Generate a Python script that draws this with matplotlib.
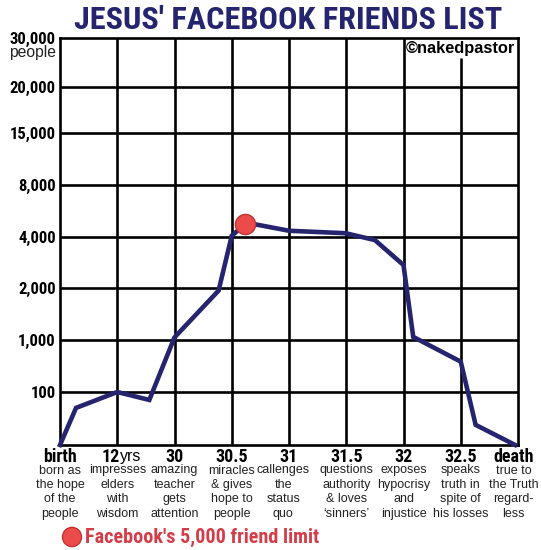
import numpy as np
import matplotlib.pyplot as plt
from matplotlib.patches import Circle

# Data
stages = ["birth", "12", "30", "30.5", "31", "31.5", "32", "32.5", "death"]
notes = [
    "born as\nthe hope\nof the\npeople",
    "impresses\nelders\nwith\nwisdom",
    "amazing\nteacher\ngets\nattention",
    "miracles\n& gives\nhope to\npeople",
    "callenges\nthe\nstatus\nquo",
    "questions\nauthority\n& loves\n\u2018sinners\u2019",
    "exposes\nhypocrisy\nand\ninjustice",
    "speaks\ntruth in\nspite of\nhis losses",
    "true to\nthe Truth\nregard-\nless",
]
levels = [0, 100, 1000, 2000, 4000, 8000, 15000, 20000, 30000]
level_labels = ["", "100", "1,000", "2,000", "4,000", "8,000", "15,000", "20,000", "30,000"]

# friends along the way (x in stage units)
path_x = [0, 0.28, 1.0, 1.56, 2.0, 2.77, 3.0, 3.24, 3.38, 4.0, 4.94, 5.0, 5.5, 6.0, 6.17, 7.0, 7.26, 7.95]
path_y = [0, 70, 100, 85, 1050, 1950, 4100, 5000, 5000, 4480, 4300, 4280, 3880, 2900, 1060, 625, 38, 0]
limit_x = 3.24
limit_y = 5000

# hand-drawn rows: where each level line sits, in pixels from the bottom
grid_y = [0, 53, 105, 157, 208, 260, 312, 358, 407]

NAVY = "#25246e"
RED = "#ec4b4b"
NARROW = ["DejaVu Sans Condensed", "Roboto Condensed", "Liberation Sans Narrow", "Roboto"]
ARIAL = ["Liberation Sans", "DejaVu Sans"]


def yfwd(v):
    return np.interp(v, levels, grid_y)


def yinv(v):
    return np.interp(v, grid_y, levels)


fig = plt.figure(figsize=(5.41, 5.50), dpi=100)
ax = fig.add_axes([60 / 541, 1 - 445 / 550, 458 / 541, 407 / 550])
ax.set_yscale("function", functions=(yfwd, yinv))
ax.set_xlim(0, len(stages) - 1)
ax.set_ylim(levels[0], levels[-1])

lw = 1.9
for v in levels[1:-1]:
    ax.axhline(v, color="black", lw=lw, zorder=1)
for i in range(1, len(stages) - 1):
    # the line under the credit stops short of the top
    top = yinv(387) if i == 7 else levels[-1]
    ax.vlines(i, 0, top, color="black", lw=lw, zorder=1)
for s in ax.spines.values():
    s.set_linewidth(lw)

ax.plot(path_x, path_y, color=NAVY, lw=3.3, solid_joinstyle="miter", zorder=3, clip_on=False)
ax.plot([limit_x], [limit_y], "o", ms=14.5, mfc=RED, mec="#c03434", mew=1, zorder=4)

ax.set_yticks(levels)
ax.set_yticklabels(level_labels, fontfamily=NARROW, fontweight="bold", fontsize=12,
                   fontstretch="condensed")
ax.tick_params(axis="y", length=0, pad=3)
ax.set_xticks([])

ytr = ax.get_yaxis_transform()
ax.text(-0.008, yinv(392), "people", ha="right", va="center", fontsize=11.3,
        family=ARIAL, color="#222222", transform=ytr)

ax.text(7.95, yinv(397), "\u00a9nakedpastor", ha="right", va="center", fontsize=11.8,
        family=ARIAL, fontweight="bold")

# stage headings and notes
tr = ax.get_xaxis_transform()
head_y = (445 - 456.5) / 407
note_y = (445 - 464.5) / 407
for i, (st, nt) in enumerate(zip(stages, notes)):
    xi = 7.92 if st == "death" else i
    nx = 3.9 if st == "31" else xi
    if st == "12":
        ax.text(1.05, head_y, "12", ha="right", va="center", fontsize=13, transform=tr,
                family=NARROW, fontweight="bold", fontstretch="condensed")
        ax.text(1.05, head_y, "yrs", ha="left", va="center", fontsize=11.5, transform=tr,
                family=ARIAL)
    else:
        ax.text(xi, head_y, st, ha="center", va="center", fontsize=13, transform=tr,
                family=NARROW, fontweight="bold", fontstretch="condensed")
    ax.text(nx, note_y, nt, ha="center", va="top", fontsize=9.0, family=ARIAL,
            linespacing=1.26, color="#222222", transform=tr)

fig.text(288 / 541, 1 - 20 / 550, "JESUS' FACEBOOK FRIENDS LIST", ha="center", va="center",
         fontsize=23.2, family=NARROW, fontweight="bold", fontstretch="condensed", color=NAVY)

fig.patches.append(Circle((72 / 541, 1 - 537 / 550), 9.5 / 541, transform=fig.transFigure,
                          facecolor=RED, edgecolor="#c03434", lw=1))
fig.text(85 / 541, 1 - 537 / 550, "Facebook's 5,000 friend limit", ha="left", va="center",
         fontsize=14.5, family=NARROW, fontweight="bold", fontstretch="condensed",
         color="#d43c48")

fig.savefig("out.png", dpi=100)
